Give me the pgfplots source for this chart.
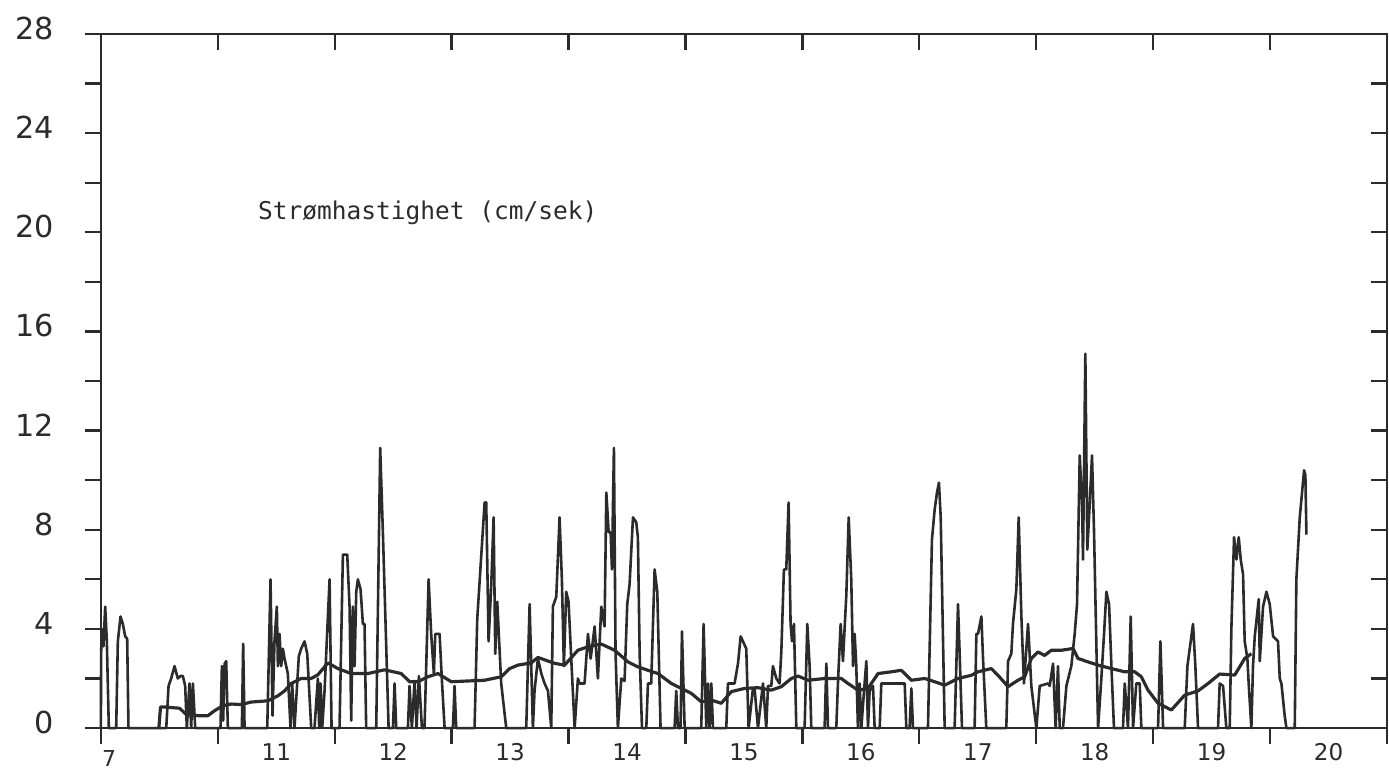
\documentclass[border=0pt]{standalone}
\usepackage{fontspec}
\setmainfont{DejaVu Sans}
\newfontfamily\monofont{DejaVu Sans Mono}
\usepackage{pgfplots}
\pgfplotsset{compat=1.18}
\definecolor{ink}{HTML}{2B2B2B}

\begin{document}
\begin{tikzpicture}
\path[use as bounding box] (-35pt,-14.9pt) rectangle (446.9pt,252.6pt);
\begin{axis}[
  at={(0,0)}, anchor=south west,
  scale only axis, width=446.2pt, height=240.8pt,
  xmin=10, xmax=21, ymin=0, ymax=28,
  clip=false,
  axis line style={ink, line width=0.8pt},
  tick style={ink, line width=0.8pt},
  tick align=outside,
  major tick length=5.5pt,
  xtick={10,...,21}, xticklabels={},
  xtick pos=left, ytick pos=left,
  ytick={0,2,...,28},
  yticklabels={0,,4,,8,,12,,16,,20,,24,,28},
  yticklabel style={font=\fontsize{10.5}{12}\selectfont, text=ink, anchor=east, inner sep=0pt, xshift=-10.5pt, yshift=2pt},
  extra x ticks={11.5,12.5,13.5,14.5,15.5,16.5,17.5,18.5,19.5,20.5},
  extra x tick labels={11,12,13,14,15,16,17,18,19,20},
  extra x tick style={major tick length=0pt, xticklabel style={font=\fontsize{8}{9}\selectfont, text=ink, anchor=north, inner sep=0pt, yshift=-5.2pt}},
  no markers,
]
\addplot[ink, line width=0.9pt, line join=round] coordinates {
(10.000,0) (10.002,3.0) (10.008,4.0) (10.022,3.3) (10.037,4.9) (10.051,3.5) (10.068,0)
(10.131,0) (10.145,3.5) (10.168,4.5) (10.188,4.2) (10.208,3.7) (10.225,3.6) (10.236,0)
(10.559,0) (10.579,1.7) (10.601,2.0) (10.630,2.5) (10.658,2.0) (10.681,2.1) (10.701,2.1) (10.721,1.7) (10.735,0)
(10.758,1.8) (10.772,0) (10.787,1.8) (10.807,0)
(11.023,0) (11.035,2.5) (11.046,0.3) (11.058,2.6) (11.072,2.7) (11.086,0)
(11.206,0) (11.217,3.4) (11.229,0)
(11.423,0) (11.451,6.0) (11.468,0.5) (11.485,3.5) (11.505,4.9) (11.514,2.5) (11.528,3.8) (11.542,2.5) (11.557,3.2) (11.571,2.8) (11.599,2.2) (11.622,0)
(11.636,1.8) (11.656,0) (11.679,1.8) (11.693,2.9) (11.713,3.2) (11.742,3.5) (11.765,3.0) (11.799,0)
(11.827,0) (11.856,2.0) (11.867,0) (11.879,1.8) (11.893,0) (11.913,1.5) (11.956,6.0) (11.973,0)
(12.041,0) (12.070,7.0) (12.107,7.0) (12.127,4.9) (12.141,0.3) (12.155,4.9) (12.170,2.5) (12.184,5.5) (12.198,6.0) (12.221,5.6) (12.241,4.2) (12.255,4.2) (12.269,0)
(12.355,0) (12.389,11.3) (12.412,7.9) (12.461,0)
(12.498,0) (12.512,1.8) (12.526,0)
(12.626,0) (12.640,1.7) (12.660,0) (12.683,1.9) (12.700,0) (12.720,2.1) (12.746,0)
(12.768,0) (12.803,6.0) (12.825,3.8) (12.848,2.2) (12.860,3.8) (12.897,3.8) (12.917,1.9) (12.940,0)
(13.011,0) (13.025,1.7) (13.039,0)
(13.196,0) (13.219,4.4) (13.282,9.1) (13.296,9.1) (13.316,3.5) (13.339,5.8) (13.359,8.5) (13.373,3.0) (13.390,5.1) (13.424,1.8) (13.467,0)
(13.638,0) (13.667,5.0) (13.695,0) (13.709,1.5) (13.738,2.8) (13.767,2.2) (13.795,1.8) (13.824,1.5) (13.852,0)
(13.866,4.9) (13.895,5.3) (13.923,8.5) (13.943,6.0) (13.960,2.5) (13.980,5.5) (14.000,5.1) (14.023,2.8) (14.052,0)
(14.080,2.0) (14.094,1.8) (14.137,1.8) (14.166,3.8) (14.189,2.8) (14.223,4.1) (14.251,2.0) (14.280,4.9) (14.308,4.1)
(14.323,9.5) (14.343,7.9) (14.360,7.9) (14.371,6.4) (14.388,11.3) (14.402,3.0) (14.422,0)
(14.451,2.0) (14.479,1.9) (14.502,5.0) (14.522,5.8) (14.551,8.5) (14.579,8.3) (14.593,7.7) (14.608,3.0) (14.628,0)
(14.665,0) (14.679,1.8) (14.707,1.8) (14.736,6.4) (14.759,5.5) (14.787,0)
(14.907,0) (14.921,1.5) (14.936,0) (14.958,0) (14.970,3.9) (14.993,0)
(15.135,0) (15.155,4.2) (15.178,0) (15.192,1.8) (15.206,0) (15.221,1.8) (15.235,0)
(15.349,0) (15.363,1.8) (15.420,1.8) (15.449,2.6) (15.472,3.7) (15.492,3.5) (15.520,3.2) (15.540,0)
(15.577,1.6) (15.591,1.6) (15.620,0) (15.663,1.8) (15.691,0) (15.706,1.7) (15.734,1.7) (15.748,2.5) (15.777,2.0) (15.805,1.8)
(15.820,3.1) (15.842,6.4) (15.862,6.4) (15.882,9.1) (15.899,4.2) (15.911,3.5) (15.928,4.2) (15.948,0)
(16.019,0) (16.042,4.2) (16.062,2.5) (16.076,0)
(16.190,0) (16.205,2.6) (16.219,0)
(16.290,0) (16.304,1.8) (16.327,4.2) (16.347,2.7) (16.376,5.4) (16.396,8.5) (16.418,6.0) (16.433,2.5) (16.447,3.8) (16.461,2.5) (16.475,0)
(16.490,1.8) (16.504,0) (16.532,1.8) (16.547,2.7) (16.561,0) (16.575,1.5) (16.604,1.7) (16.618,0)
(16.661,0) (16.675,1.8) (16.875,1.8) (16.889,0) (16.917,0) (16.932,1.6) (16.946,0)
(17.074,0) (17.108,7.6) (17.131,8.8) (17.151,9.5) (17.168,9.9) (17.183,8.5) (17.217,0)
(17.302,0) (17.331,5.0) (17.345,3.0) (17.365,0)
(17.473,0) (17.488,3.8) (17.502,3.8) (17.531,4.5) (17.545,2.8) (17.573,0)
(17.744,0) (17.759,2.7) (17.787,3.0) (17.801,4.2) (17.830,5.6) (17.850,8.5) (17.873,4.5) (17.895,1.8) (17.930,4.2) (17.958,1.7) (18.001,0)
(18.030,1.7) (18.101,1.8) (18.115,1.7) (18.144,2.6) (18.166,0) (18.186,2.5) (18.201,0)
(18.229,0) (18.258,1.7) (18.300,2.5) (18.329,3.8) (18.349,5.0) (18.372,11.0) (18.392,9.0) (18.400,6.8) (18.420,15.1) (18.437,7.2) (18.457,9.0) (18.477,11.0) (18.494,8.0) (18.529,0)
(18.557,2.0) (18.580,3.8) (18.600,5.5) (18.623,5.0) (18.643,2.5) (18.665,0)
(18.742,0) (18.757,1.8) (18.785,0) (18.808,4.5) (18.828,0) (18.856,1.8) (18.885,1.8) (18.899,0)
(19.042,0) (19.062,3.5) (19.085,0)
(19.270,0) (19.293,2.5) (19.341,4.2) (19.361,2.5) (19.384,0)
(19.555,0) (19.569,1.8) (19.598,1.7) (19.626,0)
(19.655,0) (19.669,4.0) (19.692,7.7) (19.712,6.8) (19.732,7.7) (19.749,6.8) (19.769,6.2) (19.783,3.5) (19.806,2.8) (19.817,1.8) (19.840,0)
(19.854,2.5) (19.869,3.7) (19.903,5.2) (19.912,2.7) (19.940,4.9) (19.969,5.5) (19.997,5.0) (20.026,3.7) (20.068,3.5) (20.083,2.0) (20.097,1.8) (20.125,0.5) (20.140,0)
(20.211,0) (20.225,6.0) (20.254,8.5) (20.291,10.4) (20.302,10.2) (20.311,7.8)
};
\addplot[ink, line width=1.1pt, line join=round] coordinates {
(10.496,0) (10.510,0.85) (10.544,0.85) (10.673,0.80) (10.730,0.55) (10.830,0.50) (10.915,0.50) (10.972,0.70)
(11.043,0.90) (11.115,0.97) (11.200,0.95) (11.286,1.05) (11.428,1.10) (11.514,1.30) (11.571,1.50) (11.628,1.80)
(11.713,2.00) (11.799,2.00) (11.856,2.15) (11.942,2.63) (12.027,2.40) (12.141,2.20) (12.284,2.20) (12.426,2.35)
(12.569,2.20) (12.640,1.87) (12.711,1.87) (12.797,2.07) (12.883,2.20) (12.997,1.87) (13.139,1.90) (13.282,1.93)
(13.424,2.07) (13.496,2.40) (13.567,2.54) (13.681,2.63) (13.738,2.85) (13.881,2.61) (13.966,2.54) (14.080,3.14)
(14.166,3.28) (14.280,3.39) (14.394,3.14) (14.508,2.67) (14.593,2.47) (14.679,2.33) (14.765,2.20) (14.879,1.80)
(14.964,1.60) (15.050,1.40) (15.135,1.06) (15.221,1.13) (15.306,1.00) (15.392,1.47) (15.506,1.60) (15.620,1.63)
(15.734,1.53) (15.820,1.67) (15.905,2.00) (15.962,2.10) (16.048,1.93) (16.190,2.00) (16.333,2.00) (16.390,1.80)
(16.475,1.53) (16.561,1.60) (16.647,2.20) (16.761,2.27) (16.846,2.33) (16.932,1.93) (17.046,2.00) (17.131,1.87)
(17.217,1.73) (17.331,2.00) (17.445,2.13) (17.502,2.27) (17.616,2.40) (17.673,2.13) (17.759,1.67) (17.844,1.93)
(17.901,2.07) (17.958,2.80) (18.015,3.07) (18.072,2.93) (18.129,3.14) (18.215,3.14) (18.315,3.21) (18.357,2.81)
(18.443,2.67) (18.529,2.54) (18.643,2.40) (18.757,2.27) (18.842,2.27) (18.899,2.07) (18.956,1.53) (19.042,1.00)
(19.156,0.73) (19.270,1.33) (19.384,1.50) (19.470,1.80) (19.569,2.18) (19.698,2.14) (19.783,2.81) (19.840,3.00)
};
\node[font=\monofont\fontsize{8.5}{10}\selectfont, text=ink, anchor=west, inner sep=0pt] at (axis cs:11.34,20.8) {Strømhastighet (cm/sek)};
\node[font=\fontsize{7.6}{9}\selectfont, text=ink, anchor=center, inner sep=0pt] at (axis cs:10.07,0) [yshift=-10.6pt] {7};
\end{axis}
\begin{axis}[
  at={(0,0)}, anchor=south west,
  scale only axis, width=446.2pt, height=240.8pt,
  xmin=10, xmax=21, ymin=0, ymax=28,
  axis line style={draw=none},
  tick style={ink, line width=0.8pt},
  tick align=inside,
  major tick length=5.5pt,
  xtick={11,...,20}, ytick={2,4,...,26},
  xticklabels={}, yticklabels={},
  xtick pos=right, ytick pos=right,
]
\end{axis}
\end{tikzpicture}
\end{document}
